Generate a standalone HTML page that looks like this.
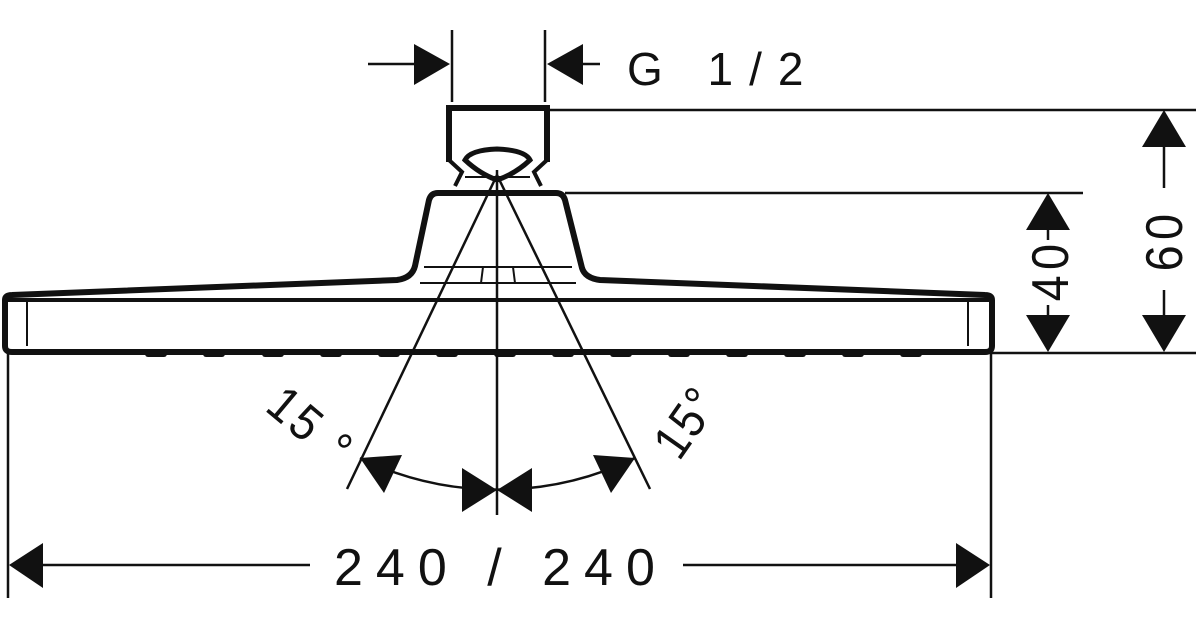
<!DOCTYPE html>
<html><head><meta charset="utf-8"><style>html,body{margin:0;padding:0;background:#fff;}svg{display:block}text{font-family:"Liberation Sans",sans-serif;fill:#111}</style></head>
<body>
<svg width="1200" height="630" viewBox="0 0 1200 630" xmlns="http://www.w3.org/2000/svg">
<g stroke="#111" fill="none">
<line x1="452" y1="30" x2="452" y2="102" stroke-width="2.5"/>
<line x1="545" y1="30" x2="545" y2="102" stroke-width="2.5"/>
<line x1="368" y1="64" x2="415" y2="64" stroke-width="2.5"/>
<line x1="580" y1="64" x2="600" y2="64" stroke-width="2.5"/>
<line x1="548" y1="110" x2="1196" y2="110" stroke-width="2.5"/>
<line x1="565" y1="193" x2="1083" y2="193" stroke-width="2.5"/>
<line x1="990" y1="353" x2="1196" y2="353" stroke-width="2.5"/>
<line x1="8" y1="352" x2="8" y2="598" stroke-width="2.5"/>
<line x1="991" y1="352" x2="991" y2="598" stroke-width="2.5"/>
<path d="M449,162 L449,108 L547,108 L547,162" stroke-width="6"/>
<path d="M449,160 L462,172 L455,186" stroke-width="4"/>
<path d="M547,160 L534,172 L541,186" stroke-width="4"/>
<path d="M465,160 Q470,150 497,149 Q525,150 530,160 Q515,174 497,180 Q480,174 465,160 Z" stroke-width="5"/>
<line x1="465" y1="177" x2="530" y2="177" stroke-width="2"/>
<path d="M5,300 L5,346 Q5,352 12,352 L985,352 Q992,352 992,346 L992,300 Q992,295 985,295 L600,280 Q585,278 582,268 L565,200 Q563,193 556,193 L438,193 Q431,193 429,200 L415,266 Q412,278 397,280 L12,295 Q5,295 5,300 Z" stroke-width="6"/>
<line x1="8" y1="300" x2="990" y2="300" stroke-width="4"/>
<line x1="27" y1="302" x2="27" y2="346" stroke-width="2"/>
<line x1="968" y1="302" x2="968" y2="346" stroke-width="2"/>
<line x1="424" y1="267" x2="572" y2="267" stroke-width="2"/>
<line x1="420" y1="283" x2="576" y2="283" stroke-width="2"/>
<line x1="483" y1="267" x2="481" y2="283" stroke-width="2"/>
<line x1="513" y1="267" x2="515" y2="283" stroke-width="2"/>
<line x1="431" y1="195" x2="563" y2="195" stroke-width="2"/>
<line x1="497" y1="170" x2="497" y2="515" stroke-width="2.5"/>
<line x1="497" y1="175" x2="347" y2="489" stroke-width="2.5"/>
<line x1="497" y1="175" x2="650" y2="489" stroke-width="2.5"/>
<path d="M360,458 A315,315 0 0 0 635,458" stroke-width="2.5"/>
<line x1="1048" y1="230" x2="1048" y2="240" stroke-width="2.5"/>
<line x1="1048" y1="305" x2="1048" y2="315" stroke-width="2.5"/>
<line x1="1164" y1="145" x2="1164" y2="188" stroke-width="2.5"/>
<line x1="1164" y1="290" x2="1164" y2="315" stroke-width="2.5"/>
<line x1="25" y1="565" x2="310" y2="565" stroke-width="2.5"/>
<line x1="683" y1="565" x2="975" y2="565" stroke-width="2.5"/>
</g>
<g fill="#111">
<rect x="145" y="350" width="22" height="7" rx="3"/><rect x="203" y="350" width="22" height="7" rx="3"/><rect x="262" y="350" width="22" height="7" rx="3"/><rect x="320" y="350" width="22" height="7" rx="3"/><rect x="378" y="350" width="22" height="7" rx="3"/><rect x="436" y="350" width="22" height="7" rx="3"/><rect x="494" y="350" width="22" height="7" rx="3"/><rect x="552" y="350" width="22" height="7" rx="3"/><rect x="610" y="350" width="22" height="7" rx="3"/><rect x="668" y="350" width="22" height="7" rx="3"/><rect x="726" y="350" width="22" height="7" rx="3"/><rect x="784" y="350" width="22" height="7" rx="3"/><rect x="842" y="350" width="22" height="7" rx="3"/><rect x="900" y="350" width="22" height="7" rx="3"/>
<polygon points="450,64 414,44 414,85"/>
<polygon points="547,64 583,44 583,85"/>
<polygon points="1048,193 1026,230 1070,230"/>
<polygon points="1048,352 1026,315 1070,315"/>
<polygon points="1164,110 1142,147 1186,147"/>
<polygon points="1164,352 1142,315 1186,315"/>
<polygon points="9,565 43,543 43,588"/>
<polygon points="990,565 956,543 956,588"/>
<polygon points="497,490 462,468 462,512"/>
<polygon points="497,490 532,468 532,512"/>
<polygon points="360,458 402,455 384,493"/>
<polygon points="635,458 593,455 611,493"/>
</g>
<text x="627" y="85" font-size="46" letter-spacing="16">G 1/2</text>
<text x="334" y="585" font-size="52" letter-spacing="13">240 / 240</text>
<text x="0" y="0" font-size="52" letter-spacing="6" text-anchor="middle" transform="translate(1068,270) rotate(-90) scale(0.9,1)">40</text>
<text x="0" y="0" font-size="52" letter-spacing="6" text-anchor="middle" transform="translate(1182,240) rotate(-90) scale(0.9,1)">60</text>
<text x="0" y="0" font-size="50" letter-spacing="4" text-anchor="middle" transform="translate(300,440) rotate(40) scale(0.9,1)">15 °</text>
<text x="0" y="0" font-size="50" letter-spacing="2" text-anchor="middle" transform="translate(700,432) rotate(-55) scale(0.9,1)">15°</text>
</svg>
</body></html>
